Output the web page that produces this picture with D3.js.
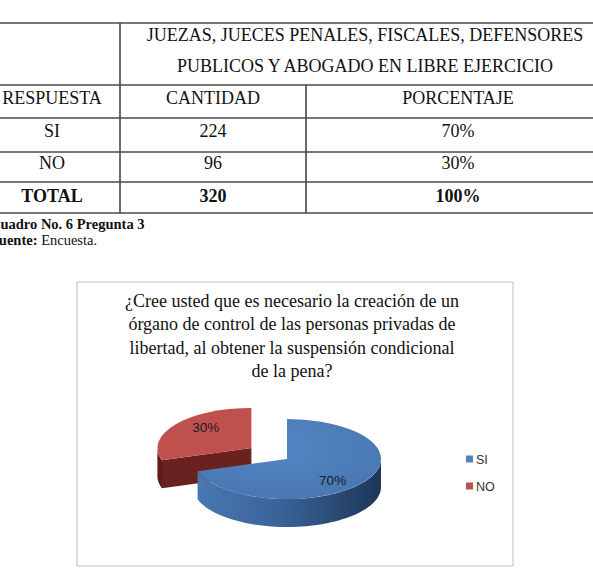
<!DOCTYPE html>
<html>
<head>
<meta charset="utf-8">
<script src="https://cdn.jsdelivr.net/npm/d3@7"></script>
<style>
  html, body { margin: 0; padding: 0; background: #fff; overflow: hidden; }
  svg { display: block; }
</style>
</head>
<body>
<svg id="chart" width="593" height="585"></svg>
<script>
// ---- Data ----
const headerLines = ["JUEZAS, JUECES PENALES, FISCALES, DEFENSORES", "PUBLICOS Y ABOGADO EN LIBRE EJERCICIO"];
const columnHeads = ["RESPUESTA", "CANTIDAD", "PORCENTAJE"];
const categories = ["SI", "NO"];
const counts = [224, 96];
const percents = ["70%", "30%"];
const totalRow = ["TOTAL", "320", "100%"];
const tableCaption = "Cuadro No. 6 Pregunta 3";
const sourceLabel = "Fuente:";
const sourceText = " Encuesta.";
const chartTitle = ["¿Cree usted que es necesario la creación de un", "órgano de control de las personas privadas de", "libertad, al obtener la suspensión condicional", "de la pena?"];
const figureCaption = "Gráfico No. 7 Pregunta 3";
const colors = ["#4F81BD", "#C0504D"];

const svg = d3.select("#chart");
const serif = "'Liberation Serif', 'Times New Roman', serif";
const sans = "'Liberation Sans', Arial, sans-serif";

// ---- Table ----
const colX = [-16, 120, 306, 610];
const rowY = [23, 85, 118, 152, 182, 213];
const gT = svg.append("g");
rowY.forEach(y => gT.append("line").attr("x1", 0).attr("x2", 593).attr("y1", y).attr("y2", y)
  .attr("stroke", "#777").attr("stroke-width", 2));
gT.append("line").attr("x1", colX[1]).attr("x2", colX[1]).attr("y1", rowY[0]).attr("y2", rowY[5]).attr("stroke", "#444").attr("stroke-width", 1.6);
gT.append("line").attr("x1", colX[2]).attr("x2", colX[2]).attr("y1", rowY[1]).attr("y2", rowY[5]).attr("stroke", "#444").attr("stroke-width", 1.6);

const colCenter = i => (colX[i] + colX[i + 1]) / 2;
const txt = (x, y, s, bold) => gT.append("text").attr("x", x).attr("y", y).attr("text-anchor", "middle")
  .attr("font-family", serif).attr("font-size", 18).attr("font-weight", bold ? "bold" : "normal")
  .attr("fill", "#111").text(s);

headerLines.forEach((s, i) => txt((colX[1] + colX[3]) / 2, [41, 72][i], s));
columnHeads.forEach((s, i) => txt(colCenter(i), 104, s));
const rowBase = [137, 169];
categories.forEach((c, r) => {
  txt(colCenter(0), rowBase[r], c);
  txt(colCenter(1), rowBase[r], counts[r]);
  txt(colCenter(2), rowBase[r], percents[r]);
});
totalRow.forEach((s, i) => txt(colCenter(i), 202, s, true));

gT.append("text").attr("x", -10).attr("y", 229).attr("font-family", serif).attr("font-size", 14.5)
  .attr("font-weight", "bold").attr("fill", "#111").text(tableCaption);
const src = gT.append("text").attr("x", -10).attr("y", 245).attr("font-family", serif).attr("font-size", 14.5).attr("fill", "#111");
src.append("tspan").attr("font-weight", "bold").text(sourceLabel);
src.append("tspan").text(sourceText);

// ---- Chart box ----
svg.append("rect").attr("x", 77).attr("y", 282).attr("width", 436).attr("height", 284)
  .attr("fill", "#fff").attr("stroke", "#bfbfbf").attr("stroke-width", 1);

const titleG = svg.append("g");
chartTitle.forEach((s, i) => titleG.append("text").attr("x", 292).attr("y", 307 + i * 23.3)
  .attr("text-anchor", "middle").attr("font-family", serif).attr("font-size", 18).attr("fill", "#111").text(s));

// ---- 3D Pie ----
const defs = svg.append("defs");
const sideGrad = defs.append("linearGradient").attr("id", "blueSide").attr("x1", "0").attr("x2", "1").attr("y1", "0").attr("y2", "0");
sideGrad.append("stop").attr("offset", "0%").attr("stop-color", "#4878b2");
sideGrad.append("stop").attr("offset", "45%").attr("stop-color", "#3a6398");
sideGrad.append("stop").attr("offset", "100%").attr("stop-color", "#1d3658");
const topGrad = defs.append("radialGradient").attr("id", "blueTop").attr("cx", "45%").attr("cy", "35%").attr("r", "70%");
topGrad.append("stop").attr("offset", "0%").attr("stop-color", "#5386c4");
topGrad.append("stop").attr("offset", "100%").attr("stop-color", "#4877b0");
const redSide = ["#6a2220", "#5c1c1b"];

const cx = 287, cy = 459, rx = 94, ry = 40, depth = 28, explode = 44;
const pie = d3.pie().sort(null).value(d => d);
const arcs = pie(counts);
const pt = (a, ox, oy) => [ox + rx * Math.sin(a), oy - ry * Math.cos(a)];
const line = d3.line();

const pieG = svg.append("g");
const order = [1, 0];
order.forEach(i => {
  const d = arcs[i];
  const mid = (d.startAngle + d.endAngle) / 2;
  const ex = i === 1 ? explode : 0;
  const ox = cx + ex * Math.sin(mid);
  const oy = cy - ex * Math.cos(mid) * (ry / rx);
  const g = pieG.append("g");

  if (i === 1) {
    const p = pt(d.startAngle, ox, oy);
    g.append("path").attr("d", line([[ox, oy], p, [p[0], p[1] + depth], [ox, oy + depth]]) + "Z")
      .attr("fill", redSide[0]);
  }
  const a0 = Math.max(d.startAngle, Math.PI / 2), a1 = Math.min(d.endAngle, 3 * Math.PI / 2);
  if (a1 > a0) {
    const n = 60;
    const top = d3.range(n + 1).map(k => pt(a0 + (a1 - a0) * k / n, ox, oy));
    const bot = top.map(p => [p[0], p[1] + depth]).reverse();
    g.append("path").attr("d", line(top.concat(bot)) + "Z")
      .attr("fill", i === 0 ? "url(#blueSide)" : redSide[1]);
  }
  const arcGen = d3.arc().innerRadius(0).outerRadius(rx);
  g.append("path").attr("d", arcGen(d))
    .attr("transform", `translate(${ox},${oy}) scale(1,${ry / rx})`)
    .attr("fill", i === 0 ? "url(#blueTop)" : colors[1]);

  const lx = ox + rx * Math.sin(mid) * 0.6;
  const ly = oy - ry * Math.cos(mid) * 0.9;
  g.append("text")
    .attr("x", lx).attr("y", ly + 5)
    .attr("text-anchor", "middle").attr("font-family", sans).attr("font-size", 13.5)
    .attr("fill", "#1a1a2a").text(percents[i]);
});

// ---- Legend ----
const legG = svg.append("g");
categories.forEach((c, i) => {
  const y = 459 + i * 27;
  legG.append("rect").attr("x", 466).attr("y", y - 3.5).attr("width", 7).attr("height", 7).attr("fill", colors[i]);
  legG.append("text").attr("x", 476).attr("y", y + 4.5).attr("font-family", sans).attr("font-size", 12.5)
    .attr("fill", "#333").text(c);
});

// ---- Figure caption (cut at bottom) ----
svg.append("text").attr("x", -9).attr("y", 595).attr("font-family", serif).attr("font-size", 14.5)
  .attr("font-weight", "bold").attr("fill", "#111").text(figureCaption);
</script>
</body>
</html>
